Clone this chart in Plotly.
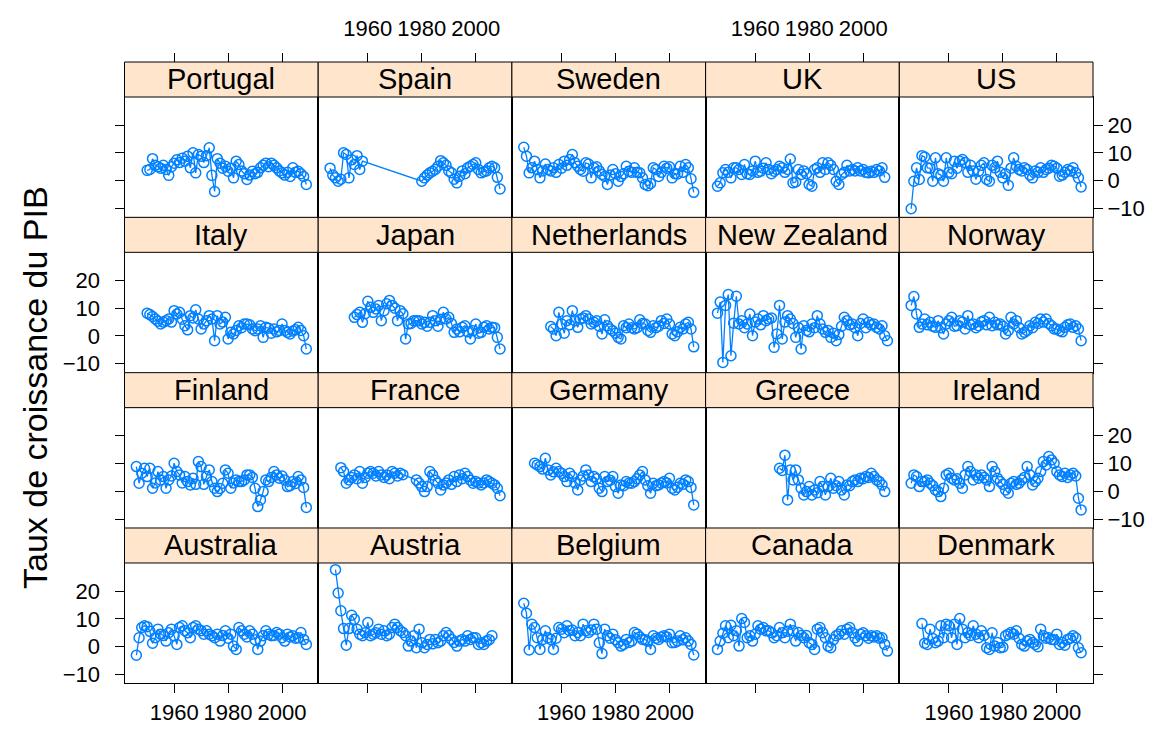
import plotly.graph_objects as go

# ---------------- data (GDP growth, %) ----------------
countries = ["Australia", "Austria", "Belgium", "Canada", "Denmark",
             "Finland", "France", "Germany", "Greece", "Ireland",
             "Italy", "Japan", "Netherlands", "New Zealand", "Norway",
             "Portugal", "Spain", "Sweden", "UK", "US"]

australia_years = list(range(1946, 2010))
australia = [-3.1, 3.2, 6.9, 7.5, 7.2, 5.5, 1.2, 3.2, 6.3, 4.5, 4.0, 2.0, 5.0, 6.3, 3.9, 0.8, 6.9, 7.5, 5.7, 5.0,
             3.2, 6.9, 7.5, 6.3, 5.7, 4.5, 5.7, 4.5, 3.9, 3.2, 4.5, 2.0, 4.0, 5.7, 3.0, 4.5, 0.2, -1.0, 6.9, 5.7,
             4.5, 3.5, 5.7, 4.5, 2.5, -1.0, 2.0, 3.9, 5.7, 4.5, 3.9, 4.0, 5.1, 4.5, 3.2, 2.0, 4.5, 3.5, 3.9, 3.0,
             3.2, 5.1, 2.6, 0.8]

austria_years = list(range(1948, 2007))
austria = [27.7, 19.3, 12.9, 6.5, 0.5, 6.5, 11.3, 9.9, 6.3, 4.5, 3.9, 5.0, 8.7, 3.9, 4.5, 5.0, 6.3, 4.5, 5.7, 3.9,
           4.5, 6.9, 8.1, 6.9, 5.7, 5.1, 3.9, 0.2, 2.0, 3.9, -0.4, 6.3, 1.4, -0.4, 0.8, 2.6, 1.0, 2.6, 1.4, 2.0,
           3.9, 5.1, 4.0, 2.6, 1.5, 0.2, 2.0, 2.6, 2.0, 3.9, 2.6, 3.2, 3.2, 0.8, 1.4, 0.8, 2.0, 2.5, 3.9]

belgium_years = list(range(1946, 2010))
belgium = [15.6, 12.0, -1.2, 8.1, 6.9, 3.2, -1.0, 2.6, 5.7, 3.2, 2.6, -1.0, 3.0, 6.9, 6.3, 5.0, 7.5, 5.7, 6.0, 3.9,
           5.1, 3.9, 8.1, 5.7, 5.1, 6.0, 8.1, 6.3, 1.4, -2.5, 6.3, 3.9, 3.0, 4.5, 2.5, 1.4, 0.2, 0.8, 2.6, 1.5,
           2.0, 5.1, 4.5, 3.5, 2.6, 2.5, 2.0, -1.0, 3.9, 3.0, 2.6, 3.5, 3.9, 3.5, 4.5, 1.4, 1.5, 2.0, 3.9, 2.5,
           3.2, 2.0, 0.8, -3.0]

canada_years = list(range(1946, 2010))
canada = [-1.0, 2.0, 4.8, 7.5, 3.2, 7.7, 3.9, 5.7, 0.2, 10.1, 8.7, 3.2, 3.9, 2.0, 4.5, 7.5, 6.3, 6.9, 5.7, 5.7,
          5.0, 3.2, 3.9, 6.9, 5.0, 3.2, 5.5, 8.1, 5.7, 2.0, 5.1, 4.0, 3.2, 4.0, 1.4, 0.8, -1.0, 6.3, 6.9, 5.0,
          3.2, 0.2, -0.4, 2.5, 3.9, 4.5, 5.7, 4.5, 6.3, 6.9, 5.0, 3.2, 2.0, 4.5, 5.0, 3.9, 3.0, 3.9, 3.5, 3.9,
          3.0, 3.2, 0.8, -1.6]

denmark_years = list(range(1950, 2010))
denmark = [8.3, 1.2, 0.8, 6.3, 2.9, 1.4, 2.0, 7.5, 3.2, 8.1, 7.5, 3.2, 8.1, 0.8, 10.1, 6.3, 3.2, 5.1, 4.0, 7.5,
           4.5, 3.2, 5.7, 4.0, -0.4, -1.0, 5.0, 0.2, 1.5, -0.4, -0.2, 3.9, 4.5, 5.1, 4.5, 5.7, 3.0, 0.8, 0.2, 2.0,
           2.6, 1.5, 0.8, 0.0, 6.3, 3.9, 3.0, 3.2, 2.6, 2.5, 4.5, 0.8, 1.5, 0.5, 2.6, 3.0, 3.9, 3.2, -0.4, -2.2]

finland_years = list(range(1946, 2010))
finland = [8.9, 2.9, 6.5, 8.3, 5.3, 8.3, 1.1, 3.0, 7.1, 4.1, 5.3, 1.1, 4.1, 5.5, 10.1, 7.1, 5.9, 3.0, 5.3, 3.5,
           2.3, 4.7, 2.5, 10.7, 8.9, 2.5, 5.3, 7.7, 3.5, 1.1, -0.1, 1.0, 2.9, 7.7, 6.5, 1.1, 3.0, 4.1, 3.5, 3.5,
           4.1, 5.9, 5.9, 5.0, 1.1, -5.5, -3.1, -0.1, 4.1, 3.5, 5.0, 7.1, 5.9, 4.7, 5.5, 4.1, 1.7, 2.0, 3.5, 2.8,
           5.3, 4.1, 1.4, -5.8]

france_years = list(range(1950, 1974)) + list(range(1978, 2010))
france = [8.5, 7.1, 2.9, 4.1, 5.0, 5.9, 4.5, 7.1, 2.9, 5.0, 6.5, 7.1, 6.5, 5.5, 7.1, 5.9, 5.0, 5.9, 4.5, 7.1,
          6.5, 5.5, 6.5, 6.0,
          4.1, 3.0, 1.7, -0.1, 1.7, 7.1, 5.9, 4.0, 2.9, 0.5, 2.3, 3.0, 4.1, 2.5, 5.3, 3.5, 5.9, 4.5, 6.5, 5.3,
          4.0, 2.9, 3.5, 3.0, 2.3, 3.0, 4.1, 3.5, 2.9, 2.3, 1.1, -1.6]

germany_years = list(range(1950, 2010))
germany = [10.1, 9.5, 8.9, 8.0, 11.9, 7.7, 5.9, 7.0, 8.3, 7.1, 6.5, 5.3, 3.5, 6.5, 5.3, 3.0, 0.5, 4.1, 5.5, 7.7,
           5.9, 3.5, 5.3, 4.5, 1.1, -0.1, 5.3, 3.5, 4.0, 5.3, 1.7, -0.7, 2.3, 2.0, 3.5, 3.0, 2.9, 3.5, 4.5, 5.9,
           7.1, 4.1, 2.0, -0.7, 2.9, 2.0, 2.3, 3.0, 3.5, 3.0, 4.7, 1.1, 0.5, 1.5, 2.9, 2.5, 4.1, 3.5, 1.4, -4.9]

greece_years = list(range(1969, 2009))
greece = [8.3, 7.5, 13.0, -3.1, 7.7, 4.1, 7.7, 4.1, 1.1, -1.3, -0.1, 1.7, -1.3, 0.5, -0.5, 3.5, 1.7, -1.3, 1.7, 4.7,
          1.1, 2.0, 3.5, 0.5, -1.3, 2.3, 2.0, 3.5, 4.1, 3.5, 4.7, 4.5, 5.3, 5.0, 6.5, 5.3, 4.1, 3.5, 2.3, -0.1]

ireland_years = list(range(1946, 2010))
ireland = [2.9, 5.9, 5.3, 1.7, 3.5, 3.5, 4.1, 2.9, 2.0, 0.5, -0.1, -1.9, 1.1, 5.9, 6.5, 4.7, 4.1, 4.5, 2.9, 1.1,
           5.9, 8.9, 7.1, 4.1, 5.9, 4.7, 5.9, 5.0, 4.1, 1.7, 8.9, 7.1, 4.7, 3.5, 2.5, 0.5, -0.7, 2.9, 3.5, 2.5,
           2.9, 4.1, 5.0, 8.9, 5.9, 2.3, 3.5, 4.7, 7.1, 10.7, 9.5, 12.5, 11.3, 10.1, 7.1, 5.9, 5.3, 6.5, 5.0, 5.9,
           6.5, 5.5, -2.5, -6.7]

italy_years = list(range(1950, 2010))
italy = [8.2, 7.7, 7.0, 6.1, 5.3, 4.3, 5.0, 5.5, 6.1, 5.0, 9.1, 7.9, 8.5, 6.0, 3.7, 2.2, 7.3, 6.5, 9.4, 6.1,
         2.5, 4.3, 5.5, 7.3, 6.1, -1.7, 7.3, 4.3, 5.0, 6.7, -1.1, 1.3, 0.7, 2.0, 3.7, 3.0, 4.3, 4.3, 4.0, 2.5,
         1.9, 2.5, 3.7, -0.5, 3.1, 2.8, 1.0, 2.5, 1.5, 2.0, 4.3, 2.0, 1.3, 0.7, 1.8, 2.2, 3.1, 2.0, 0.1, -4.7]

japan_years = list(range(1955, 2010))
japan = [6.7, 7.7, 8.5, 4.9, 8.0, 12.5, 10.3, 8.5, 9.7, 11.0, 5.5, 9.1, 11.6, 12.8, 11.0, 10.0, 5.5, 9.1, 8.0, -1.1,
         4.3, 4.5, 5.5, 5.5, 5.5, 4.3, 4.9, 3.5, 4.9, 7.3, 5.5, 3.5, 6.0, 8.5, 6.1, 6.7, 4.5, 1.3, 2.5, 1.5,
         3.1, 3.7, 1.5, -1.1, 1.9, 4.3, 1.0, 1.3, 3.1, 3.7, 2.5, 3.1, 3.0, -0.5, -4.7]

netherlands_years = list(range(1956, 2010))
netherlands = [3.4, 2.5, 0.1, 8.5, 4.3, 1.0, 5.5, 4.0, 9.1, 5.5, 3.1, 6.1, 6.5, 7.3, 6.1, 4.3, 4.9, 5.5, 3.5, 0.7,
               5.8, 3.7, 2.5, 1.9, 1.0, -0.5, -1.1, 3.7, 3.0, 4.3, 3.0, 2.5, 3.0, 5.8, 4.5, 4.3, 2.0, 1.3, 3.7, 3.0,
               3.5, 5.5, 4.5, 6.1, 4.3, 0.7, 0.1, 1.5, 3.1, 2.5, 4.3, 4.9, 2.5, -3.9]

new_zealand_years = list(range(1946, 2010))
new_zealand = [8.2, 12.2, -9.5, 11.0, 14.9, -7.1, 4.6, 14.3, 4.3, 5.5, 3.0, 4.3, 7.9, 0.1, 5.0, 6.1, 4.0, 7.3, 5.5, 6.1,
               6.5, -4.1, 0.7, 11.0, -1.1, 5.0, 7.3, 6.1, 4.5, -0.5, 3.0, -4.7, 3.7, 2.0, 1.5, 4.3, 3.0, 7.3, 4.3, 2.5,
               1.3, 2.0, -0.5, 1.0, -1.7, 0.5, 3.5, 6.7, 5.5, 4.0, 4.3, 3.0, 0.1, 4.5, 6.1, 3.0, 4.9, 4.0, 4.3, 3.1,
               2.5, 3.7, 0.1, -1.7]

norway_years = list(range(1946, 2010))
norway = [11.0, 14.2, 7.9, 3.1, 4.3, 6.1, 4.0, 4.9, 3.5, 3.1, 5.5, 3.0, 0.7, 4.3, 5.5, 6.7, 3.5, 3.7, 5.5, 5.0,
          2.5, 7.3, 4.0, 4.3, 3.0, 3.7, 5.0, 5.5, 4.0, 6.7, 3.7, 4.9, 4.0, 4.3, 3.5, 0.7, 2.0, 6.7, 4.3, 5.5,
          3.0, 0.7, 1.3, 2.0, 3.7, 3.0, 4.9, 4.5, 6.1, 5.0, 6.1, 4.5, 3.7, 2.5, 2.5, 1.9, 1.5, 3.1, 4.0, 4.3,
          3.1, 3.7, 2.5, -1.7]

portugal_years = list(range(1950, 2010))
portugal = [3.7, 4.0, 7.9, 5.5, 5.0, 4.5, 5.5, 4.0, 1.9, 5.0, 6.3, 7.5, 6.5, 8.1, 7.0, 8.8, 4.6, 10.0, 2.8, 9.4,
            8.8, 6.5, 9.0, 11.8, 1.9, -3.9, 7.9, 6.3, 4.5, 5.2, 3.4, 4.5, 1.0, 7.0, 5.8, 3.5, 2.5, 0.4, 2.0, 3.4,
            2.5, 3.0, 4.6, 5.5, 6.3, 5.0, 6.3, 5.5, 4.6, 3.5, 2.8, 2.0, 3.0, 1.5, 4.6, 3.0, 3.4, 2.5, 1.5, -1.4]

spain_years = list(range(1946, 1959)) + list(range(1980, 2010))
spain = [4.5, 2.0, 1.0, -0.2, 0.5, 10.0, 9.4, 1.0, 7.5, 5.8, 9.0, 4.0, 7.0,
         -0.2, 1.0, 2.0, 2.8, 3.4, 4.0, 5.2, 7.2, 6.4, 5.5, 3.5, 2.8, 0.5, -0.8, 1.6, 3.5, 2.5, 4.6, 5.2, 5.8,
         6.4, 4.0, 2.8, 3.2, 3.5, 4.6, 5.2, 4.6, 1.2, -3.0]

sweden_years = list(range(1946, 2010))
sweden = [12.0, 8.8, 2.8, 4.6, 7.0, 4.0, 1.0, 3.5, 6.0, 4.0, 3.5, 4.6, 3.0, 5.8, 4.5, 7.0, 5.5, 7.6, 9.4, 6.4,
          5.2, 4.0, 3.4, 6.4, 6.0, 1.0, 4.6, 5.0, 3.5, 2.2, 1.5, -1.4, 2.0, 4.0, 2.5, -0.2, 1.5, 2.5, 5.2, 3.4,
          3.0, 4.6, 3.0, 2.8, 1.0, -1.4, -1.8, -1.0, 4.6, 4.0, 1.5, 3.0, 5.2, 4.5, 5.0, 1.0, 2.5, 2.4, 5.2, 3.0,
          5.8, 4.6, 0.7, -4.2]

uk_years = list(range(1946, 2009))
uk = [-2.0, -0.8, 2.8, 4.0, 3.0, 1.0, 4.6, 4.6, 4.0, 2.2, 5.8, 2.5, 2.2, 3.5, 7.0, 3.0, 3.4, 4.5, 6.4, 4.0,
      2.5, 3.4, 4.0, 5.2, 4.6, 3.0, 4.0, 7.8, -0.8, -0.5, 4.0, 2.2, 3.5, 2.5, -1.4, -2.0, 4.0, 4.6, 3.0, 6.4,
      4.0, 6.4, 5.5, 4.0, -0.2, -1.4, 2.2, 3.0, 5.5, 3.5, 4.0, 3.5, 4.6, 3.5, 4.0, 3.0, 2.8, 3.4, 3.0, 4.0,
      3.5, 4.6, 1.2]

us_years = list(range(1946, 2010))
us = [-10.1, -0.2, 4.6, 0.4, 9.0, 8.5, 4.6, 4.5, -0.2, 8.2, 2.5, 2.0, -0.2, 8.2, 3.0, 2.5, 7.0, 4.5, 7.0, 7.6,
      6.5, 3.0, 5.5, 3.5, 0.5, 3.4, 5.5, 6.4, 0.4, -0.2, 5.5, 4.6, 7.0, 3.0, 1.0, 2.5, -1.7, 4.5, 8.2, 5.2,
      4.0, 3.5, 4.6, 4.0, 2.0, 1.0, 3.5, 3.0, 4.6, 3.0, 4.0, 4.5, 5.5, 5.2, 4.5, 1.6, 2.0, 3.0, 4.0, 3.5,
      4.6, 2.8, 1.0, -2.3]

x_ticks = [1960, 1980, 2000]
y_ticks = [-10, 0, 10, 20]
y_title = "Taux de croissance du PIB"

series = [
    (australia_years, australia), (austria_years, austria), (belgium_years, belgium),
    (canada_years, canada), (denmark_years, denmark),
    (finland_years, finland), (france_years, france), (germany_years, germany),
    (greece_years, greece), (ireland_years, ireland),
    (italy_years, italy), (japan_years, japan), (netherlands_years, netherlands),
    (new_zealand_years, new_zealand), (norway_years, norway),
    (portugal_years, portugal), (spain_years, spain), (sweden_years, sweden),
    (uk_years, uk), (us_years, us),
]

# ---------------- layout geometry (target pixels in the 1157x731 window) ----------------
OFF = 8  # page body margin
W, H = 1157 - OFF, 731 - OFF
LEFT, COLW = 124.5 - OFF, 193.7
TOP, ROWH, STRIPH = 62.0 - OFF, 155.33, 35.0
XR = [1941.6, 2013.4]
YR = [-13.2, 30.1]
COLOR = "#0080ff"
FONT = "Liberation Sans, Arial, Helvetica, sans-serif"
TICKFONT = dict(family=FONT, size=22, color="black")

fig = go.Figure()
layout = dict(width=W, height=H, margin=dict(l=0, r=0, t=0, b=0, autoexpand=False),
              paper_bgcolor="white", plot_bgcolor="white", showlegend=False)
shapes, annotations = [], []

for i, (name, (yrs, vals)) in enumerate(zip(countries, series)):
    k = i + 1
    col = i % 5
    r = 3 - i // 5  # row from top
    x0 = LEFT + col * COLW
    x1 = x0 + COLW
    strip_top = TOP + r * ROWH
    ptop = strip_top + STRIPH
    pbot = TOP + (r + 1) * ROWH
    xs = "" if k == 1 else str(k)

    fig.add_trace(go.Scatter(
        x=yrs, y=vals, mode="lines+markers", xaxis="x" + xs, yaxis="y" + xs,
        line=dict(color=COLOR, width=1.3),
        marker=dict(symbol="circle-open", size=10, color=COLOR, line=dict(width=1.5, color=COLOR)),
        hoverinfo="x+y", cliponaxis=False))

    xa = dict(domain=[x0 / W, x1 / W], range=XR, anchor="y" + xs, showgrid=False, zeroline=False,
              showline=True, mirror=True, linecolor="black", linewidth=1,
              tickvals=x_ticks, tickfont=TICKFONT, ticks="", showticklabels=False)
    if r == 3:
        xa.update(ticks="outside", ticklen=9, tickwidth=1, tickcolor="black",
                  showticklabels=(col % 2 == 0))
    ya = dict(domain=[1 - pbot / H, 1 - ptop / H], range=YR, anchor="x" + xs, showgrid=False,
              zeroline=False, showline=True, mirror=True, linecolor="black", linewidth=1,
              tickvals=y_ticks, tickfont=TICKFONT, ticks="", showticklabels=False)
    if col == 0:
        ya.update(side="left", ticks="outside", ticklen=9, tickwidth=1, tickcolor="black",
                  showticklabels=(r % 2 == 1), ticklabelstandoff=10)
    elif col == 4:
        ya.update(side="right", ticks="outside", ticklen=9, tickwidth=1, tickcolor="black",
                  showticklabels=(r % 2 == 0))
    layout["xaxis" + xs] = xa
    layout["yaxis" + xs] = ya

    # strip
    shapes.append(dict(type="rect", xref="paper", yref="paper",
                       x0=x0 / W, x1=x1 / W, y0=1 - ptop / H, y1=1 - strip_top / H,
                       fillcolor="#ffe5cc", line=dict(color="black", width=1), layer="above"))
    annotations.append(dict(text=name, xref="paper", yref="paper", x=(x0 + x1) / 2 / W,
                            y=1 - (strip_top + ptop) / 2 / H, xanchor="center", yanchor="middle",
                            showarrow=False, font=dict(family=FONT, size=29, color="black")))

# top axes above the strips of the first row
for col in range(5):
    k = 21 + col
    base = 16 + col  # panel index of top-row panel in this column
    bx = "" if base == 1 else str(base)
    x0 = LEFT + col * COLW
    layout["xaxis" + str(k)] = dict(
        domain=[x0 / W, (x0 + COLW) / W], range=XR, overlaying="x" + bx, anchor="free",
        position=1 - TOP / H, side="top", showgrid=False, zeroline=False, showline=False,
        tickvals=x_ticks, ticks="outside", ticklen=9, tickwidth=1, tickcolor="black",
        tickfont=TICKFONT, showticklabels=(col % 2 == 1), ticklabelstandoff=8)
    fig.add_trace(go.Scatter(x=[None], y=[None], xaxis="x" + str(k), yaxis="y" + bx,
                             showlegend=False, hoverinfo="skip"))

annotations.append(dict(text=y_title, xref="paper", yref="paper", x=(35 - OFF) / W,
                        y=1 - (388 - OFF) / H, xanchor="center", yanchor="middle", textangle=-90,
                        showarrow=False, font=dict(family=FONT, size=34, color="black")))

layout["shapes"] = shapes
layout["annotations"] = annotations
fig.update_layout(**layout)
fig.write_html("out.html")
